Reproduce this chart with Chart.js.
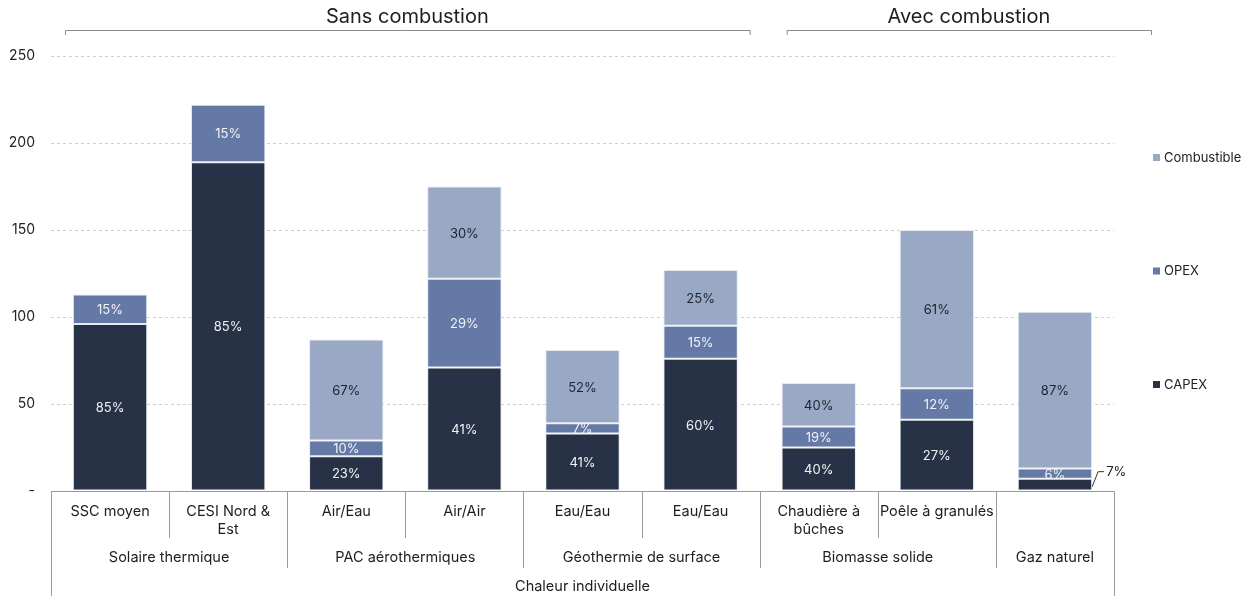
<!DOCTYPE html>
<html lang="fr">
<head>
<meta charset="UTF-8">
<title>Coût de la chaleur individuelle</title>
<script src="https://cdn.jsdelivr.net/npm/chart.js"></script>
<style>
  html, body { margin: 0; padding: 0; background: #fff; }
  #wrap { width: 1258px; height: 596px; }
</style>
</head>
<body>
<div id="wrap"><canvas id="mycanvas" width="1258" height="596"></canvas></div>
<script>
// categories and their grouping
const categories = ['SSC moyen', 'CESI Nord & Est', 'Air/Eau', 'Air/Air', 'Eau/Eau', 'Eau/Eau',
                    'Chaudière à bûches', 'Poêle à granulés', 'Gaz naturel'];
const subLabels = [['SSC moyen'], ['CESI Nord &', 'Est'], ['Air/Eau'], ['Air/Air'], ['Eau/Eau'], ['Eau/Eau'],
                   ['Chaudière à', 'bûches'], ['Poêle à granulés'], []];
const groupNames = ['Solaire thermique', 'PAC aérothermiques', 'Géothermie de surface', 'Biomasse solide', 'Gaz naturel'];
const groupStarts = [0, 2, 4, 6, 8];
const groupEnds = [1, 3, 5, 7, 8];
const topLabel = 'Chaleur individuelle';

// values per cost component
const capex = [96, 189, 20, 71, 33, 76, 25, 41, 7];
const opex = [17, 33, 9, 51, 6, 19, 12, 18, 6];
const combustible = [0, 0, 58, 53, 42, 32, 25, 91, 90];

const yTicks = [0, 50, 100, 150, 200, 250];

const FONT = 'Inter, "Noto Sans", sans-serif';
const colors = { capex: '#283247', opex: '#6479a6', comb: '#98a8c5' };

const totals = categories.map((c, i) => capex[i] + opex[i] + combustible[i]);

// percent labels inside the stacked segments
const segmentLabels = {
  id: 'segmentLabels',
  afterDatasetsDraw(chart) {
    const ctx = chart.ctx;
    ctx.save();
    ctx.font = '13px ' + FONT;
    ctx.textBaseline = 'middle';
    chart.data.datasets.forEach((ds, di) => {
      const meta = chart.getDatasetMeta(di);
      meta.data.forEach((bar, i) => {
        const v = ds.data[i];
        if (!v) return;
        const pct = Math.round(v / totals[i] * 100) + '%';
        const cy = (bar.y + bar.base) / 2;
        const h = Math.abs(bar.base - bar.y);
        if (di === 0 && h < 16) {
          // small base segment: callout to the right
          const rx = bar.x + bar.width / 2;
          ctx.strokeStyle = '#333';
          ctx.lineWidth = 1;
          ctx.beginPath();
          ctx.moveTo(rx, cy + 2);
          ctx.lineTo(rx + 6, cy - 13);
          ctx.lineTo(rx + 12, cy - 13);
          ctx.stroke();
          ctx.fillStyle = '#222';
          ctx.textAlign = 'left';
          ctx.fillText(pct, rx + 14, cy - 13);
          return;
        }
        ctx.textAlign = 'center';
        ctx.fillStyle = di === 2 ? '#1e2230' : '#f2f2f4';
        ctx.fillText(pct, bar.x, cy + 1);
      });
    });
    ctx.restore();
  }
};

// category boxes below the axis and brackets above the plot
const frames = {
  id: 'frames',
  afterDraw(chart) {
    const ctx = chart.ctx;
    const xs = chart.scales.x;
    const area = chart.chartArea;
    const edge = k => xs.getPixelForValue(k - 0.5);
    const bottom = chart.height;
    const y0 = area.bottom;
    ctx.save();
    ctx.strokeStyle = '#9a9a9a';
    ctx.lineWidth = 1;
    const vline = (x, y2) => {
      ctx.beginPath();
      ctx.moveTo(Math.round(x) + 0.5, y0);
      ctx.lineTo(Math.round(x) + 0.5, y2);
      ctx.stroke();
    };
    ctx.beginPath();
    ctx.moveTo(edge(0), y0 + 0.5);
    ctx.lineTo(edge(categories.length), y0 + 0.5);
    ctx.stroke();
    vline(edge(0), bottom);
    vline(edge(categories.length), bottom);
    for (let k = 1; k < categories.length; k++) {
      vline(edge(k), groupStarts.includes(k) ? y0 + 77 : y0 + 47);
    }

    ctx.fillStyle = '#1e1e1e';
    ctx.font = '14.5px ' + FONT;
    ctx.textAlign = 'center';
    ctx.textBaseline = 'middle';
    subLabels.forEach((lines, i) => {
      const cx = xs.getPixelForValue(i);
      lines.forEach((t, j) => ctx.fillText(t, cx, y0 + 21 + j * 18));
    });
    groupNames.forEach((g, k) => {
      const cx = (edge(groupStarts[k]) + edge(groupEnds[k] + 1)) / 2;
      ctx.fillText(g, cx, y0 + 67);
    });
    ctx.fillText(topLabel, (edge(0) + edge(categories.length)) / 2, y0 + 96);

    // brackets
    const brackets = [
      ['Sans combustion', edge(0) + 14, edge(6) - 10],
      ['Avec combustion', edge(6) + 27, edge(9) + 37]
    ];
    ctx.strokeStyle = '#8a8a8a';
    brackets.forEach(([t, a, b]) => {
      ctx.beginPath();
      ctx.moveTo(a + 0.5, 35);
      ctx.lineTo(a + 0.5, 30.5);
      ctx.lineTo(b + 0.5, 30.5);
      ctx.lineTo(b + 0.5, 35);
      ctx.stroke();
      ctx.font = '20px ' + FONT;
      ctx.fillText(t, (a + b) / 2, 17);
    });

    // legend, top to bottom: Combustible, OPEX, CAPEX
    const mid = (area.top + area.bottom) / 2;
    const lx = area.right + 39;
    ctx.font = '13px ' + FONT;
    ctx.textAlign = 'left';
    const items = chart.data.datasets.slice().reverse();
    items.forEach((ds, k) => {
      const cy = mid + (k - 1) * 113.5 - 2;
      ctx.fillStyle = ds.backgroundColor;
      ctx.fillRect(lx, cy - 4, 7, 7);
      ctx.fillStyle = '#222';
      ctx.fillText(ds.label, lx + 11, cy);
    });
    ctx.restore();
  }
};

const ctx = document.getElementById('mycanvas').getContext('2d');
new Chart(ctx, {
  type: 'bar',
  data: {
    labels: categories,
    datasets: [
      { label: 'CAPEX', data: capex, backgroundColor: colors.capex },
      { label: 'OPEX', data: opex, backgroundColor: colors.opex },
      { label: 'Combustible', data: combustible, backgroundColor: colors.comb }
    ].map(d => Object.assign(d, {
      borderColor: '#e8eaee', borderWidth: 1, borderSkipped: false,
      barPercentage: 0.63, categoryPercentage: 1
    }))
  },
  options: {
    responsive: false,
    animation: false,
    layout: { padding: { top: 56, right: 144, bottom: 105, left: 0 } },
    plugins: { legend: { display: false }, tooltip: { enabled: false } },
    scales: {
      x: { stacked: true, display: false },
      y: {
        stacked: true,
        min: 0,
        max: 250,
        afterFit(scale) { scale.width = 51; },
        afterBuildTicks(scale) { scale.ticks = yTicks.map(v => ({ value: v })); },
        border: { display: false, dash: [3, 3] },
        grid: {
          drawTicks: false,
          color: c => c.tick && c.tick.value === 0 ? 'rgba(0,0,0,0)' : '#cfcfcf'
        },
        ticks: {
          padding: 16,
          color: '#222',
          font: { family: FONT, size: 14 },
          callback: v => v === 0 ? '-' : v
        }
      }
    }
  },
  plugins: [segmentLabels, frames]
});
</script>
</body>
</html>
